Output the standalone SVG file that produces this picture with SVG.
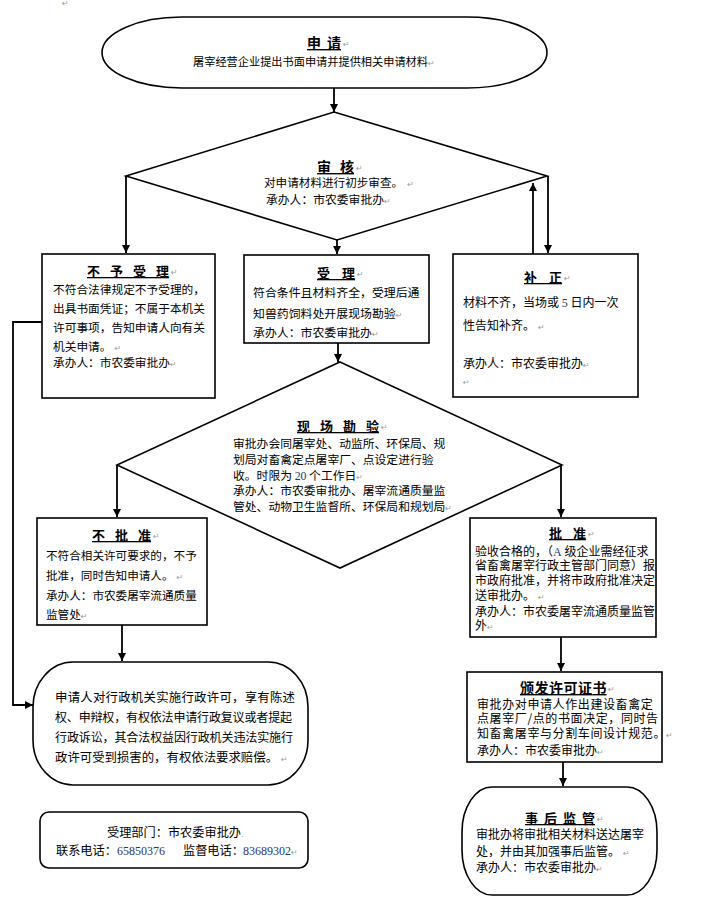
<svg xmlns="http://www.w3.org/2000/svg" width="720" height="913" viewBox="0 0 720 913">
<defs>
<marker id="ah" markerWidth="8" markerHeight="8" refX="8" refY="4" orient="auto" markerUnits="userSpaceOnUse">
<path d="M0,0 L8,4 L0,8 Z" fill="#000"/>
</marker>
<style>
.s{fill:#fff;stroke:#000;stroke-width:1.6}
.c{fill:none;stroke:#000;stroke-width:1.8;marker-end:url(#ah)}
.t{font-family:"Noto Sans CJK SC","Noto Sans CJK JP",sans-serif;font-size:12px;fill:#000}
.h{font-family:"Noto Sans CJK SC","Noto Sans CJK JP",sans-serif;font-size:13px;font-weight:bold;text-decoration:underline;fill:#000}
.z{letter-spacing:0}
.pm{font-family:"DejaVu Sans",sans-serif;font-size:8px;fill:#9a9a9a}
.n{font-family:"Liberation Serif",serif;fill:#1f3570}
</style>
</defs>
<rect width="720" height="913" fill="#fff"/>
<text class="pm" x="62" y="6">↵</text>

<g id="connectors">
<line class="c" x1="334" y1="88" x2="334" y2="112"/>
<line class="c" x1="126" y1="176" x2="126" y2="253"/>
<line class="c" x1="337" y1="240" x2="337" y2="254"/>
<line class="c" x1="548" y1="176" x2="548" y2="253"/>
<line class="c" x1="533" y1="254" x2="533" y2="183"/>
<line class="c" x1="338" y1="343" x2="338" y2="362"/>
<polyline class="c" points="42,322 13,322 13,705 33,705"/>
<line class="c" x1="117" y1="465" x2="117" y2="517"/>
<line class="c" x1="561" y1="465" x2="561" y2="517"/>
<line class="c" x1="122" y1="625" x2="122" y2="661"/>
<line class="c" x1="561" y1="637" x2="561" y2="671"/>
<line class="c" x1="563" y1="762" x2="563" y2="786"/>
</g>

<g id="apply">
<rect class="s" x="102" y="17" width="445" height="71" rx="80" ry="35.5"/>
<text class="h" x="307" y="48" style="font-size:14px;letter-spacing:6px">申<tspan class="z">请</tspan></text>
<text class="pm" x="343" y="47">↵</text>
<text class="t" x="193" y="66" style="font-size:11.2px">屠宰经营企业提出书面申请并提供相关申请材料<tspan class="pm">↵</tspan></text>
</g>

<g id="review">
<polygon class="s" points="334,112 547,176 337,240 126,176"/>
<text class="h" x="317" y="172" style="font-size:14px;letter-spacing:9px">审<tspan class="z">核</tspan></text>
<text class="pm" x="356" y="171">↵</text>
<text class="t" x="264" y="186.5" style="font-size:11.6px">对申请材料进行初步审查。<tspan class="pm" dx="4">↵</tspan></text>
<text class="t" x="266" y="203.5" style="font-size:11.8px">承办人：市农委审批办<tspan class="pm">↵</tspan></text>
</g>

<g id="reject">
<rect class="s" x="42" y="254" width="173" height="144"/>
<text class="h" x="87" y="276" style="letter-spacing:10px">不予受<tspan class="z">理</tspan></text>
<text class="pm" x="171" y="275">↵</text>
<text class="t" x="53" y="293.5" style="font-size:11.7px">不符合法律规定不予受理的，</text>
<text class="t" x="53" y="312.5" style="font-size:11.7px">出具书面凭证；不属于本机关</text>
<text class="t" x="53" y="331.5" style="font-size:11.7px">许可事项，告知申请人向有关</text>
<text class="t" x="53" y="350.5" style="font-size:11.7px">机关申请。<tspan class="pm" dx="3">↵</tspan></text>
<text class="t" x="53" y="367" style="font-size:11.7px">承办人：市农委审批办<tspan class="pm">↵</tspan></text>
</g>

<g id="accept">
<rect class="s" x="244" y="255" width="185" height="88"/>
<text class="h" x="317" y="278" style="letter-spacing:12px">受<tspan class="z">理</tspan></text>
<text class="pm" x="357" y="277">↵</text>
<text class="t" x="253" y="296.5" style="font-size:11.9px">符合条件且材料齐全，受理后通</text>
<text class="t" x="253" y="317.5" style="font-size:11.9px">知兽药饲料处开展现场勘验<tspan class="pm">↵</tspan></text>
<text class="t" x="253" y="336.5" style="font-size:11.9px">承办人：市农委审批办<tspan class="pm">↵</tspan></text>
</g>

<g id="supplement">
<rect class="s" x="453" y="254" width="185" height="143"/>
<text class="h" x="524" y="282" style="letter-spacing:12px">补<tspan class="z">正</tspan></text>
<text class="pm" x="564" y="281">↵</text>
<text class="t" x="463" y="306.5">材料不齐，当场或 <tspan class="n">5</tspan> 日内一次</text>
<text class="t" x="463" y="329.5">性告知补齐。<tspan class="pm" dx="3">↵</tspan></text>
<text class="t" x="463" y="367.5">承办人：市农委审批办<tspan class="pm">↵</tspan></text>
<text class="pm" x="463" y="385">↵</text>
</g>

<g id="inspect">
<polygon class="s" points="340,362 562,465 340,568 117,465"/>
<text class="h" x="297" y="431" style="letter-spacing:10px">现场勘<tspan class="z">验</tspan></text>
<text class="pm" x="381" y="430">↵</text>
<text class="t" x="233" y="447.5" style="font-size:11.8px">审批办会同屠宰处、动监所、环保局、规</text>
<text class="t" x="233" y="463.5" style="font-size:11.8px">划局对畜禽定点屠宰厂、点设定进行验</text>
<text class="t" x="233" y="479.5" style="font-size:11.8px">收。时限为 <tspan class="n">20</tspan> 个工作日<tspan class="pm">↵</tspan></text>
<text class="t" x="233" y="494.5" style="font-size:11.8px">承办人：市农委审批办、屠宰流通质量监</text>
<text class="t" x="233" y="510.5" style="font-size:11.8px">管处、动物卫生监督所、环保局和规划局<tspan class="pm">↵</tspan></text>
</g>

<g id="deny">
<rect class="s" x="37" y="518" width="170" height="107"/>
<text class="h" x="92" y="540" style="letter-spacing:10px">不批<tspan class="z">准</tspan></text>
<text class="pm" x="153" y="539">↵</text>
<text class="t" x="46" y="559.5" style="font-size:11.6px">不符合相关许可要求的，不予</text>
<text class="t" x="46" y="579.5" style="font-size:11.6px">批准，同时告知申请人。<tspan class="pm" dx="3">↵</tspan></text>
<text class="t" x="46" y="599.5" style="font-size:11.6px">承办人：市农委屠宰流通质量</text>
<text class="t" x="46" y="618.5" style="font-size:11.6px">监管处<tspan class="pm">↵</tspan></text>
</g>

<g id="approve">
<rect class="s" x="470" y="518" width="186" height="119"/>
<text class="h" x="549" y="538" style="letter-spacing:11px">批<tspan class="z">准</tspan></text>
<text class="pm" x="588" y="537">↵</text>
<text class="t" x="475" y="555.5">验收合格的，（<tspan class="n">A</tspan> 级企业需经征求</text>
<text class="t" x="475" y="569.5">省畜禽屠宰行政主管部门同意）报</text>
<text class="t" x="475" y="584.5">市政府批准，并将市政府批准决定</text>
<text class="t" x="475" y="599.5">送审批办。<tspan class="pm" dx="3">↵</tspan></text>
<text class="t" x="475" y="615.5">承办人：市农委屠宰流通质量监管</text>
<text class="t" x="475" y="629.5">外<tspan class="pm">↵</tspan></text>
</g>

<g id="license">
<rect class="s" x="467" y="672" width="195" height="90"/>
<text class="h" x="520" y="693" style="font-size:14px;letter-spacing:0.5px">颁发许可证<tspan class="z">书</tspan></text>
<text class="pm" x="608" y="692">↵</text>
<text class="t" x="477" y="708.5" style="letter-spacing:0.6px">审批办对申请人作出建设畜禽定</text>
<text class="t" x="477" y="722.5" style="letter-spacing:0.6px">点屠宰厂/点的书面决定，同时告</text>
<text class="t" x="477" y="737.5" style="letter-spacing:0.6px">知畜禽屠宰与分割车间设计规范。<tspan class="pm">↵</tspan></text>
<text class="t" x="477" y="754.5">承办人：市农委审批办<tspan class="pm">↵</tspan></text>
</g>

<g id="supervise">
<rect class="s" x="462" y="787" width="195" height="108" rx="30" ry="45"/>
<text class="h" x="525" y="823" style="letter-spacing:6px">事后监<tspan class="z">管</tspan></text>
<text class="pm" x="597" y="822">↵</text>
<text class="t" x="476" y="838.5">审批办将审批相关材料送达屠宰</text>
<text class="t" x="476" y="855.5">处，并由其加强事后监管。<tspan class="pm" dx="3">↵</tspan></text>
<text class="t" x="476" y="871.5">承办人：市农委审批办<tspan class="pm">↵</tspan></text>
</g>

<g id="rights">
<rect class="s" x="33" y="662" width="275" height="123" rx="40" ry="45"/>
<text class="t" x="55" y="701.5" textLength="240" style="font-size:12.4px">申请人对行政机关实施行政许可，享有陈述</text>
<text class="t" x="55" y="721.5" textLength="237" style="font-size:12px">权、申辩权，有权依法申请行政复议或者提起</text>
<text class="t" x="55" y="741.5" textLength="238" style="font-size:12px">行政诉讼，其合法权益因行政机关违法实施行</text>
<text class="t" x="55" y="761.5" style="font-size:12.4px">政许可受到损害的，有权依法要求赔偿。<tspan class="pm" dx="3">↵</tspan></text>
</g>

<g id="contact">
<rect class="s" x="40" y="812" width="268" height="56" rx="9"/>
<text class="t" x="107" y="836.5" style="font-size:12.2px">受理部门：市农委审批办<tspan class="pm">.</tspan></text>
<text class="t" x="56" y="854.5" style="font-size:12.2px">联系电话：</text>
<text class="t n" x="117" y="854.5">65850376</text>
<text class="t" x="183" y="854.5" style="font-size:12.2px">监督电话：</text>
<text class="t n" x="243" y="854.5">83689302<tspan class="pm">↵</tspan></text>
</g>
</svg>
